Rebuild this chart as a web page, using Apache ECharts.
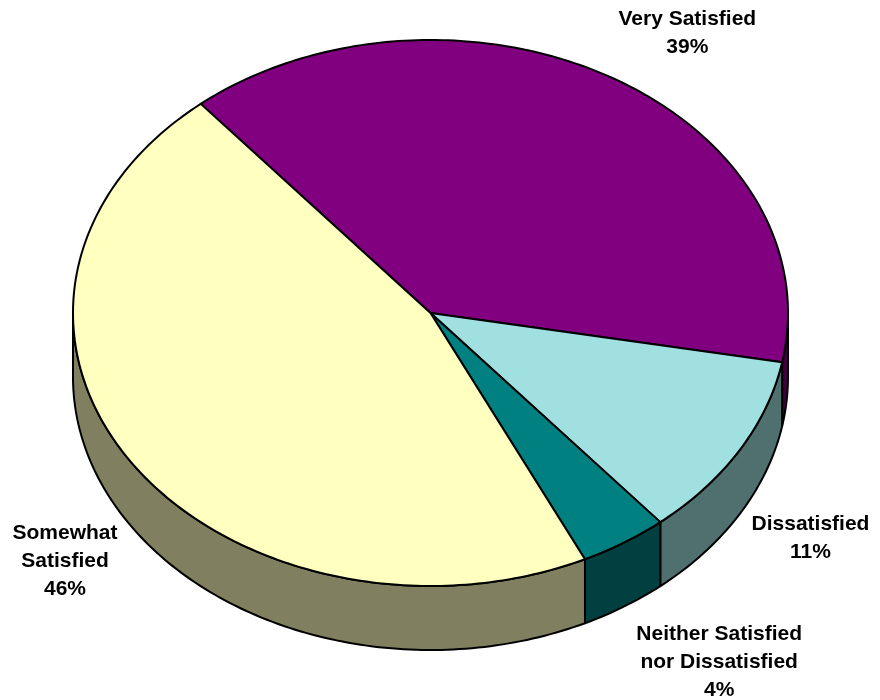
<!DOCTYPE html>
<html>
<head>
<meta charset="utf-8">
<script src="https://cdn.jsdelivr.net/npm/echarts@6/dist/echarts.min.js"></script>
<style>
  html, body { margin: 0; padding: 0; background: #fff; }
  #main { width: 880px; height: 700px; }
</style>
</head>
<body>
<div id="main"></div>
<script>
// slices, clockwise from the start angle
var categories = ['Very Satisfied', 'Dissatisfied', 'Neither Satisfied\nnor Dissatisfied', 'Somewhat\nSatisfied'];
var values = [39, 11, 4, 46];
var topColors = ['#800080', '#A0E0E0', '#008080', '#FFFFC0'];
var sideColors = ['#400040', '#507070', '#004040', '#808060'];

// 3d pie look (ellipse + rim)
var cx = 430.5, cy = 313, rx = 357.5, ry = 273, depth = 64;
var startAngle = 320; // degrees clockwise from 12 o'clock
var labelNudge = [[2, 4], [-4, -4], [20, 9], [10, 7]];

var total = values.reduce(function (s, v) { return s + v; }, 0);

function pt(deg, dy) {
  var a = deg * Math.PI / 180;
  return [cx + rx * Math.sin(a), cy - ry * Math.cos(a) + (dy || 0)];
}
function arc(a1, a2, dy) {
  var pts = [];
  var n = Math.max(2, Math.ceil(Math.abs(a2 - a1)));
  for (var i = 0; i <= n; i++) {
    pts.push(pt(a1 + (a2 - a1) * i / n, dy));
  }
  return pts;
}

function renderItem(params, api) {
  var i = params.dataIndex;
  var before = 0;
  for (var j = 0; j < i; j++) before += values[j];
  var v = api.value(0);
  var a1 = startAngle + before / total * 360;
  var a2 = a1 + v / total * 360;
  var children = [];

  // front rim (90..270 deg faces the viewer)
  [-360, 0, 360, 720].forEach(function (k) {
    var lo = Math.max(a1, 90 + k), hi = Math.min(a2, 270 + k);
    if (hi > lo) {
      children.push({
        type: 'polygon',
        shape: { points: arc(lo, hi, 0).concat(arc(hi, lo, depth)) },
        style: { fill: sideColors[i], stroke: '#000', lineWidth: 2, lineJoin: 'round' }
      });
    }
  });

  // top face
  children.push({
    type: 'polygon',
    shape: { points: [[cx, cy]].concat(arc(a1, a2, 0)) },
    style: { fill: topColors[i], stroke: '#000', lineWidth: 2, lineJoin: 'round' }
  });

  // label
  var mid = (a1 + a2) / 2;
  var m = mid * Math.PI / 180;
  var p = pt(mid, Math.cos(m) < 0 ? depth : 0);
  var lx = p[0] + (Math.sin(m) >= 0 ? 75 : -75) + labelNudge[i][0];
  var ly = p[1] - Math.cos(m) * 55 + labelNudge[i][1];
  children.push({
    type: 'text',
    style: {
      text: categories[i] + '\n' + Math.round(v / total * 100) + '%',
      x: lx, y: ly,
      fill: '#000',
      font: 'bold 21px "Liberation Sans", Arial, sans-serif',
      align: 'center', verticalAlign: 'middle',
      textAlign: 'center', textVerticalAlign: 'middle',
      lineHeight: 28
    }
  });

  return { type: 'group', children: children };
}

var chart = echarts.init(document.getElementById('main'));
chart.setOption({
  backgroundColor: '#fff',
  animation: false,
  series: [{
    type: 'custom',
    coordinateSystem: 'none',
    renderItem: renderItem,
    data: values.map(function (v, i) { return { name: categories[i], value: [v] }; })
  }]
});
</script>
</body>
</html>
